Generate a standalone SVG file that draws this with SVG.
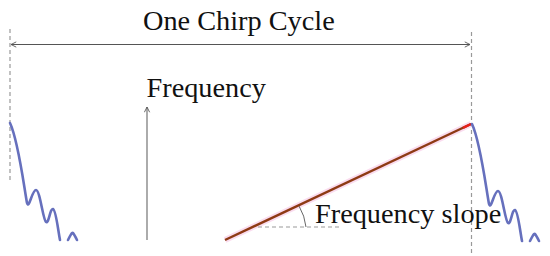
<svg xmlns="http://www.w3.org/2000/svg" width="550" height="256" viewBox="0 0 550 256">
<style>
text{font-family:"Liberation Serif","Times New Roman",serif;font-size:28.3px;fill:#111}
.dash{stroke:#999;stroke-width:1.2;stroke-dasharray:4,3;fill:none}
.wave{stroke:#6670bd;stroke-width:2.6;fill:none;stroke-linecap:round}
.ax{stroke:#555;stroke-width:1;fill:none}
</style>
<defs>
<marker id="ah" viewBox="0 0 8 8" refX="7" refY="4" markerWidth="7" markerHeight="7" orient="auto-start-reverse" markerUnits="userSpaceOnUse">
<path d="M1,1 L7,4 L1,7" fill="none" stroke="#555" stroke-width="1"/>
</marker>
</defs>
<rect width="550" height="256" fill="#fff"/>
<g id="guides">
<line class="dash" x1="10" y1="29" x2="10" y2="182"/>
<line class="dash" x1="471.5" y1="32" x2="471.5" y2="256"/>
</g>
<g id="connectors">
<line class="ax" x1="11" y1="44.5" x2="470" y2="44.5" marker-start="url(#ah)" marker-end="url(#ah)"/>
<line x1="147" y1="240" x2="147" y2="107" stroke="#888" stroke-width="1.4" marker-end="url(#ah)"/>
</g>
<g id="title"><text x="143" y="30">One Chirp Cycle</text></g>
<g id="axis-label"><text x="146.5" y="97">Frequency</text></g>
<g id="chirp">
<line x1="225" y1="240" x2="471" y2="124" stroke="#fadcef" stroke-width="6"/>
<line x1="225" y1="240" x2="471" y2="124" stroke="#8e3a14" stroke-width="2.4"/>
<line x1="463" y1="127.8" x2="471" y2="124" stroke="#e8201a" stroke-width="2.4"/>
<line class="dash" x1="258" y1="227" x2="341" y2="227"/>
<path d="M299,206 A52,52 0 0 1 306,227" fill="none" stroke="#666" stroke-width="1"/>
<text x="315" y="223">Frequency slope</text>
</g>
<g id="wave-left">
<path class="wave" d="M10,123 C18,140 23,180 27,203 C29,210 32,190 36,190 C40,190 43,220 46,222 C49,224 50,208 53,209 C56,210 58,230 60,240"/>
<path class="wave" d="M68,240 C70,236 72,232 73,233 C74,234 76,238 77,240"/>
</g>
<g id="wave-right" transform="translate(462,1)">
<path class="wave" d="M10,123 C18,140 23,180 27,203 C29,210 32,190 36,190 C40,190 43,220 46,222 C49,224 50,208 53,209 C56,210 58,230 60,240"/>
<path class="wave" d="M68,240 C70,236 72,232 73,233 C74,234 76,238 77,240"/>
</g>
</svg>
